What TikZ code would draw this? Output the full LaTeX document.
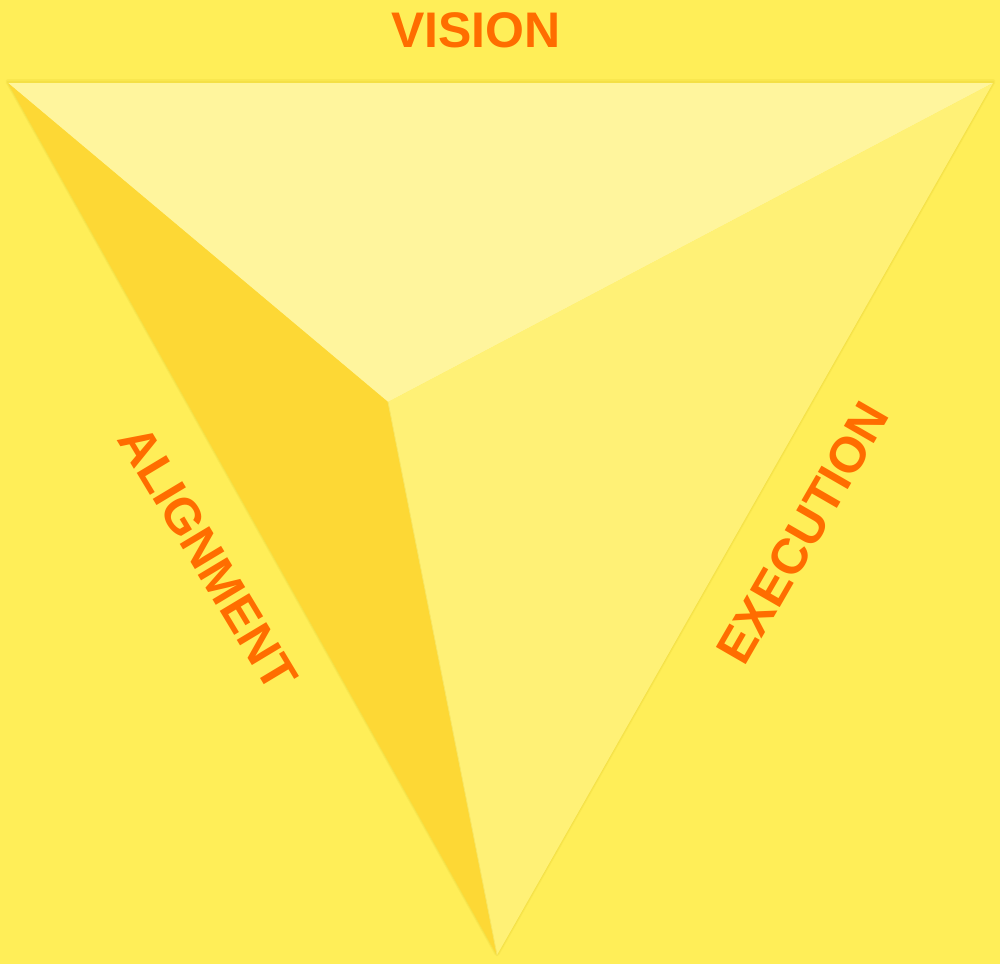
\documentclass[tikz,border=0pt]{standalone}
\usepackage{fontspec}
\setmainfont{Liberation Sans}
\begin{document}
\begin{tikzpicture}[x=1pt,y=-1pt,
  lbl/.style={font=\fontsize{50}{50}\selectfont\bfseries, text=labelor, inner sep=0pt}]
\definecolor{bg}{HTML}{FFEE58}
\definecolor{topf}{HTML}{FFF59D}
\definecolor{rightf}{HTML}{FFF176}
\definecolor{leftf}{HTML}{FDD835}
\definecolor{labelor}{HTML}{FF6D00}
\definecolor{shade}{HTML}{C8A800}
\fill[bg] (0,0) rectangle (1000,964);
\useasboundingbox (0,0) rectangle (1000,964);
\coordinate (tl) at (8,83);
\coordinate (tr) at (993,83);
\coordinate (bt) at (497,955);
\coordinate (ct) at (388,402);
% soft shadow
\draw[bg!90!shade, line width=5pt, line join=round] ([yshift=1.5pt]tl) -- ([yshift=1.5pt]tr) -- ([yshift=1.5pt]bt) -- cycle;
\draw[bg!80!shade, line width=2.5pt, line join=round] ([yshift=1pt]tl) -- ([yshift=1pt]tr) -- ([yshift=1pt]bt) -- cycle;
\fill[topf] (tl) -- (tr) -- (ct) -- cycle;
\fill[rightf] (tr) -- (bt) -- (ct) -- cycle;
\fill[leftf] (tl) -- (ct) -- (bt) -- cycle;
\draw[rightf!85!shade, line width=0.8pt] (ct) -- (bt);
\node[lbl] (vision) at (476,30) {VISION};
\node[lbl, rotate=-59] (alignment) at (208,558) {ALIGNMENT};
\node[lbl, rotate=60] (execution) at (803,533) {EXECUTION};
\end{tikzpicture}
\end{document}
